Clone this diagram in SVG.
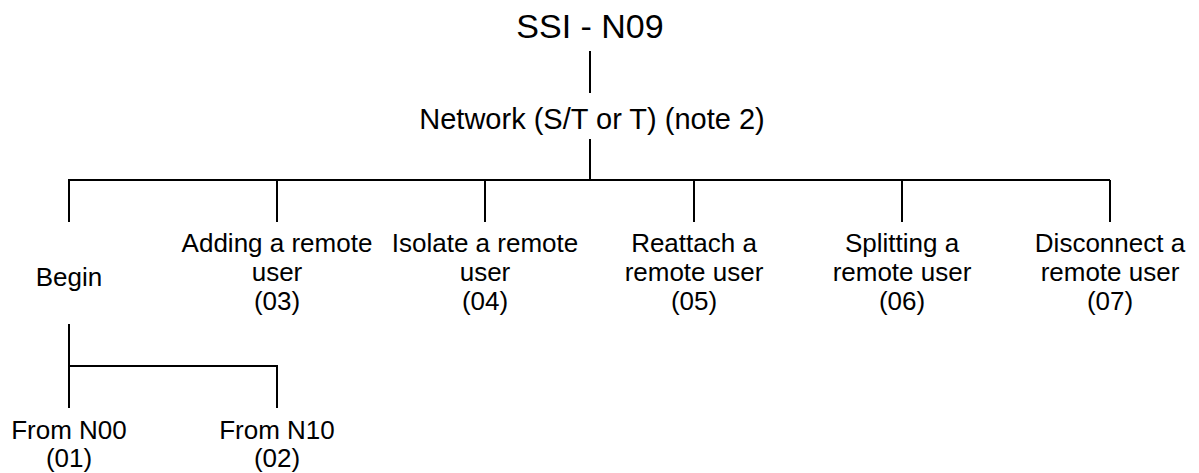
<svg xmlns="http://www.w3.org/2000/svg" width="1199" height="473" viewBox="0 0 1199 473">
<style>
text{font-family:"Liberation Sans",Arial,sans-serif;fill:#000;text-anchor:middle}
.t{font-size:34px}
.n{font-size:29px}
.l{font-size:26px}
.c{stroke:#000;stroke-width:2;fill:none}
</style>
<rect width="1199" height="473" fill="#fff"/>
<g id="connectors" class="c">
<path d="M590 51V93"/>
<path d="M590 139V180"/>
<path d="M68 180H1110"/>
<path d="M69 180V222M277 180V222M485 180V222M694 180V222M902 180V222M1110 180V222"/>
<path d="M69 324V408M69 366H277V408"/>
</g>
<g id="n-ssi"><text class="t" x="590" y="38">SSI - N09</text></g>
<g id="n-network"><text class="n" x="592" y="129">Network (S/T or T) (note 2)</text></g>
<g id="n-begin"><text class="l" x="69" y="286">Begin</text></g>
<g id="n-03"><text class="l" x="277" y="252">Adding a remote</text><text class="l" x="277" y="281">user</text><text class="l" x="277" y="310">(03)</text></g>
<g id="n-04"><text class="l" x="485" y="252">Isolate a remote</text><text class="l" x="485" y="281">user</text><text class="l" x="485" y="310">(04)</text></g>
<g id="n-05"><text class="l" x="694" y="252">Reattach a</text><text class="l" x="694" y="281">remote user</text><text class="l" x="694" y="310">(05)</text></g>
<g id="n-06"><text class="l" x="902" y="252">Splitting a</text><text class="l" x="902" y="281">remote user</text><text class="l" x="902" y="310">(06)</text></g>
<g id="n-07"><text class="l" x="1110" y="252">Disconnect a</text><text class="l" x="1110" y="281">remote user</text><text class="l" x="1110" y="310">(07)</text></g>
<g id="n-01"><text class="l" x="69" y="439">From N00</text><text class="l" x="69" y="467">(01)</text></g>
<g id="n-02"><text class="l" x="277" y="439">From N10</text><text class="l" x="277" y="467">(02)</text></g>
</svg>
